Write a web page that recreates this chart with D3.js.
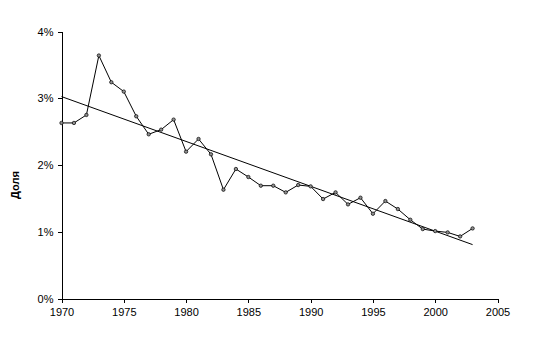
<!DOCTYPE html>
<html><head><meta charset="utf-8">
<script src="https://cdn.jsdelivr.net/npm/d3@7"></script>
<style>body{margin:0;background:#fff}svg{display:block}</style>
</head><body>
<script>
const years = [1970,1971,1972,1973,1974,1975,1976,1977,1978,1979,1980,1981,1982,1983,1984,1985,1986,1987,1988,1989,1990,1991,1992,1993,1994,1995,1996,1997,1998,1999,2000,2001,2002,2003];
const shares = [2.63,2.63,2.75,3.64,3.24,3.10,2.73,2.46,2.53,2.68,2.20,2.39,2.16,1.63,1.94,1.82,1.69,1.69,1.59,1.70,1.68,1.49,1.59,1.41,1.51,1.27,1.46,1.34,1.18,1.04,1.01,0.99,0.93,1.05];
const xTicks = [1970,1975,1980,1985,1990,1995,2000,2005];
const yTicks = [0,1,2,3,4];
const yLabel = "Доля";

const W=547,H=359;
const svg=d3.select("body").append("svg").attr("width",W).attr("height",H);
const x=d3.scaleLinear().domain([1970,2005]).range([61.5,497.5]);
const y=d3.scaleLinear().domain([0,4]).range([298.5,31.5]);
const font="Liberation Sans, Arial, sans-serif";

const gx=svg.append("g").attr("transform",`translate(0,${y(0)})`)
  .call(d3.axisBottom(x).tickValues(xTicks).tickFormat(d3.format("d")).tickSizeInner(4).tickSizeOuter(0));
const gy=svg.append("g").attr("transform",`translate(${x(1970)},0)`)
  .call(d3.axisLeft(y).tickValues(yTicks).tickFormat(d=>d+"%").tickSizeInner(4).tickSizeOuter(0));
[gx,gy].forEach(g=>{
  g.selectAll("path,line").attr("stroke","#000").attr("shape-rendering","crispEdges");
  g.selectAll("text").attr("fill","#000").style("font-family",font).style("font-size","11px");
});
gx.selectAll("text").attr("dy","0.71em").attr("y",10);
gy.selectAll("text").attr("x",-8);

// trend line (least squares)
const mx=d3.mean(years), my=d3.mean(shares);
const b=d3.sum(years,(v,i)=>(v-mx)*(shares[i]-my))/d3.sum(years,v=>(v-mx)*(v-mx));
const a=my-b*mx;
const x0=years[0], x1=years[years.length-1];
svg.append("line").attr("x1",x(x0)).attr("y1",y(a+b*x0)).attr("x2",x(x1)).attr("y2",y(a+b*x1))
  .attr("stroke","#000").attr("stroke-width",1);

const data=years.map((v,i)=>[v,shares[i]]);
svg.append("path").datum(data).attr("fill","none").attr("stroke","#000").attr("stroke-width",1)
  .attr("d",d3.line().x(d=>x(d[0])).y(d=>y(d[1])));
svg.selectAll("circle").data(data).join("circle")
  .attr("cx",d=>x(d[0])).attr("cy",d=>y(d[1])).attr("r",1.7)
  .attr("fill","#909090").attr("stroke","#000").attr("stroke-width",0.7);

svg.append("text").attr("transform","translate(19,185) rotate(-90)")
  .attr("text-anchor","middle").style("font-family",font).style("font-size","11px")
  .style("font-weight","bold").text(yLabel);
</script>
</body></html>
